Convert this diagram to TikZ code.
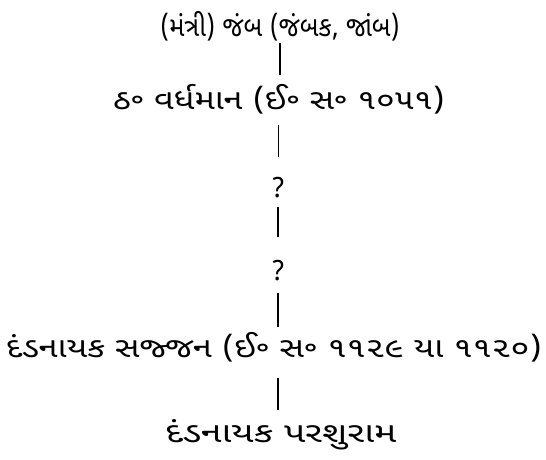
\documentclass[tikz,border=0pt]{standalone}
\usepackage{fontspec}
\newfontfamily\guj[Script=Gujarati]{Noto Sans Gujarati UI}
\begin{document}
\begin{tikzpicture}[x=1pt,y=-1pt,
  lbl/.style={inner sep=0pt, font=\guj\fontsize{28}{32}\selectfont},
  link/.style={line width=1.8pt},
  thinlink/.style={line width=0.7pt}]
\useasboundingbox (0,0) rectangle (546,459);
\node[lbl] (a) at (280,26) {\scalebox{0.91}[1]{(મંત્રી) જંબ (જંબક, જાંબ)}};
\node[lbl] (b) at (279,99) {\scalebox{1.22}[1]{ઠ૰ વર્ધમાન (ઈ૰ સ૰ ૧૦૫૧)}};
\node[lbl] (q1) at (278,188) {?};
\node[lbl] (q2) at (278,271) {?};
\node[lbl] (c) at (274,347) {\scalebox{1.23}[1]{દંડનાયક સજ્જન (ઈ૰ સ૰ ૧૧૨૯ યા ૧૧૨૦)}};
\node[lbl] (d) at (281,435) {\scalebox{1.34}[1]{દંડનાયક પરશુરામ}};
\draw[link, shorten <=17pt, shorten >=24pt] (a.center) -- (a.center |- b.center);
\draw[thinlink, shorten <=26pt, shorten >=31pt] (q1.center |- b.center) -- (q1.center);
\draw[line width=1.1pt, shorten <=19pt, shorten >=34pt] (q1.center) -- (q2.center);
\draw[link, shorten <=22pt, shorten >=20pt] (q2.center) -- (q2.center |- c.center);
\draw[link, shorten <=31pt, shorten >=25pt] (q2.center |- c.center) -- (q2.center |- d.center);
\end{tikzpicture}
\end{document}
